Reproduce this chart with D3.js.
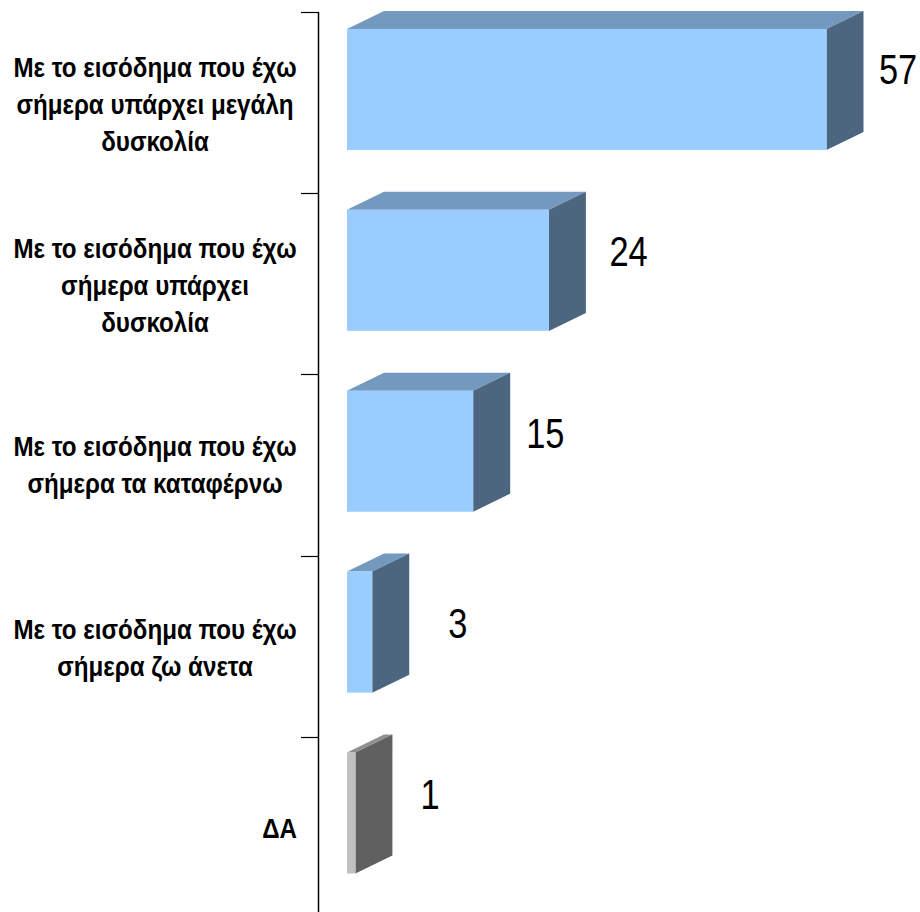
<!DOCTYPE html>
<html>
<head>
<meta charset="utf-8">
<script src="https://cdn.jsdelivr.net/npm/d3@7"></script>
<style>
  html, body { margin: 0; padding: 0; background: #fff; }
  svg { display: block; }
</style>
</head>
<body>
<div id="wrapper"></div>
<script>
const categories = [
  ["Με το εισόδημα που έχω", "σήμερα υπάρχει μεγάλη", "δυσκολία"],
  ["Με το εισόδημα που έχω", "σήμερα υπάρχει", "δυσκολία"],
  ["Με το εισόδημα που έχω", "σήμερα τα καταφέρνω"],
  ["Με το εισόδημα που έχω", "σήμερα ζω άνετα"],
  ["ΔΑ"],
]
const values = [57, 24, 15, 3, 1]

// the source chart places its labels by hand, so these are nudges from the computed spots
const labelNudgeX = [15.5, 23.5, 16, 39, 28]
const labelNudgeY = [55, 56, 57, 66, 57]
const categoryNudgeY = [0, 0.5, -2, 0, 0]

const blue = { front: "#99ccff", top: "#7399bf", side: "#4d6680" }
const grey = { front: "#c0c0c0", top: "#909090", side: "#606060" }

const dms = {
  width: 920,
  height: 912,
  axisX: 318.5,
  baseX: 347,
  depthX: 37,
  depthY: 18,
}

// no narrow font is installed, so squeeze Liberation Sans sideways
const fontFamily = "'Liberation Sans', Arial, sans-serif"
const labelSqueeze = 0.895
const valueSqueeze = 0.8

const wrapper = d3.select("#wrapper")
  .append("svg")
  .attr("width", dms.width)
  .attr("height", dms.height)

// Scales
const tickScale = d3.scaleBand()
  .domain(d3.range(values.length))
  .range([12, 918])

const yScale = d3.scaleBand()
  .domain(d3.range(values.length))
  .range([29, 873.5])
  .paddingInner(0.331)

const xScale = d3.scaleLinear()
  .domain([0, 57])
  .range([dms.baseX, 826.5])

// Axis
const axis = wrapper.append("g")

axis.append("line")
  .attr("x1", dms.axisX)
  .attr("x2", dms.axisX)
  .attr("y1", 12)
  .attr("y2", dms.height)
  .attr("stroke", "#000")
  .attr("stroke-width", 1.5)

axis.selectAll(".tick")
  .data(values)
  .join("line")
  .attr("class", "tick")
  .attr("x1", 301)
  .attr("x2", dms.axisX)
  .attr("y1", (d, i) => Math.round(tickScale(i)) + 0.5)
  .attr("y2", (d, i) => Math.round(tickScale(i)) + 0.5)
  .attr("stroke", "#000")
  .attr("stroke-width", 1.2)

// Bars
const barGroup = wrapper.selectAll(".bar")
  .data(values)
  .join("g")
  .attr("class", "bar")

const colors = i => i === values.length - 1 ? grey : blue
const barHeight = yScale.bandwidth()

barGroup.append("polygon")
  .attr("fill", (d, i) => colors(i).top)
  .attr("points", (d, i) => {
    const x0 = dms.baseX, x1 = xScale(d), y = yScale(i)
    return [[x0, y], [x1, y], [x1 + dms.depthX, y - dms.depthY], [x0 + dms.depthX, y - dms.depthY]].join(" ")
  })

barGroup.append("polygon")
  .attr("fill", (d, i) => colors(i).side)
  .attr("points", (d, i) => {
    const x1 = xScale(d), y = yScale(i)
    return [[x1, y], [x1 + dms.depthX, y - dms.depthY], [x1 + dms.depthX, y - dms.depthY + barHeight], [x1, y + barHeight]].join(" ")
  })

barGroup.append("rect")
  .attr("x", dms.baseX)
  .attr("y", (d, i) => yScale(i))
  .attr("width", d => xScale(d) - dms.baseX)
  .attr("height", barHeight)
  .attr("fill", (d, i) => colors(i).front)

// Value labels
barGroup.append("text")
  .attr("transform", (d, i) => `translate(${xScale(d) + dms.depthX + labelNudgeX[i]}, ${yScale(i) + labelNudgeY[i]}) scale(${valueSqueeze}, 1)`)
  .attr("font-family", fontFamily)
  .attr("font-size", 43)
  .attr("fill", "#000")
  .text(d => d)

// Category labels
const lineHeight = 37

const labelGroup = wrapper.selectAll(".label")
  .data(categories)
  .join("text")
  .attr("class", "label")
  .attr("transform", (d, i) => `translate(${d.length > 1 ? 155 : 297}, ${tickScale(i) + tickScale.bandwidth() / 2 + 11 + categoryNudgeY[i]}) scale(${labelSqueeze}, 1)`)
  .attr("font-family", fontFamily)
  .attr("font-weight", "bold")
  .attr("font-size", 27)
  .attr("fill", "#000")
  .attr("text-anchor", d => d.length > 1 ? "middle" : "end")

labelGroup.selectAll("tspan")
  .data(d => d.map((line, j) => ({ line, j, n: d.length })))
  .join("tspan")
  .attr("x", 0)
  .attr("y", d => (d.j - (d.n - 1) / 2) * lineHeight)
  .text(d => d.line)
</script>
</body>
</html>
